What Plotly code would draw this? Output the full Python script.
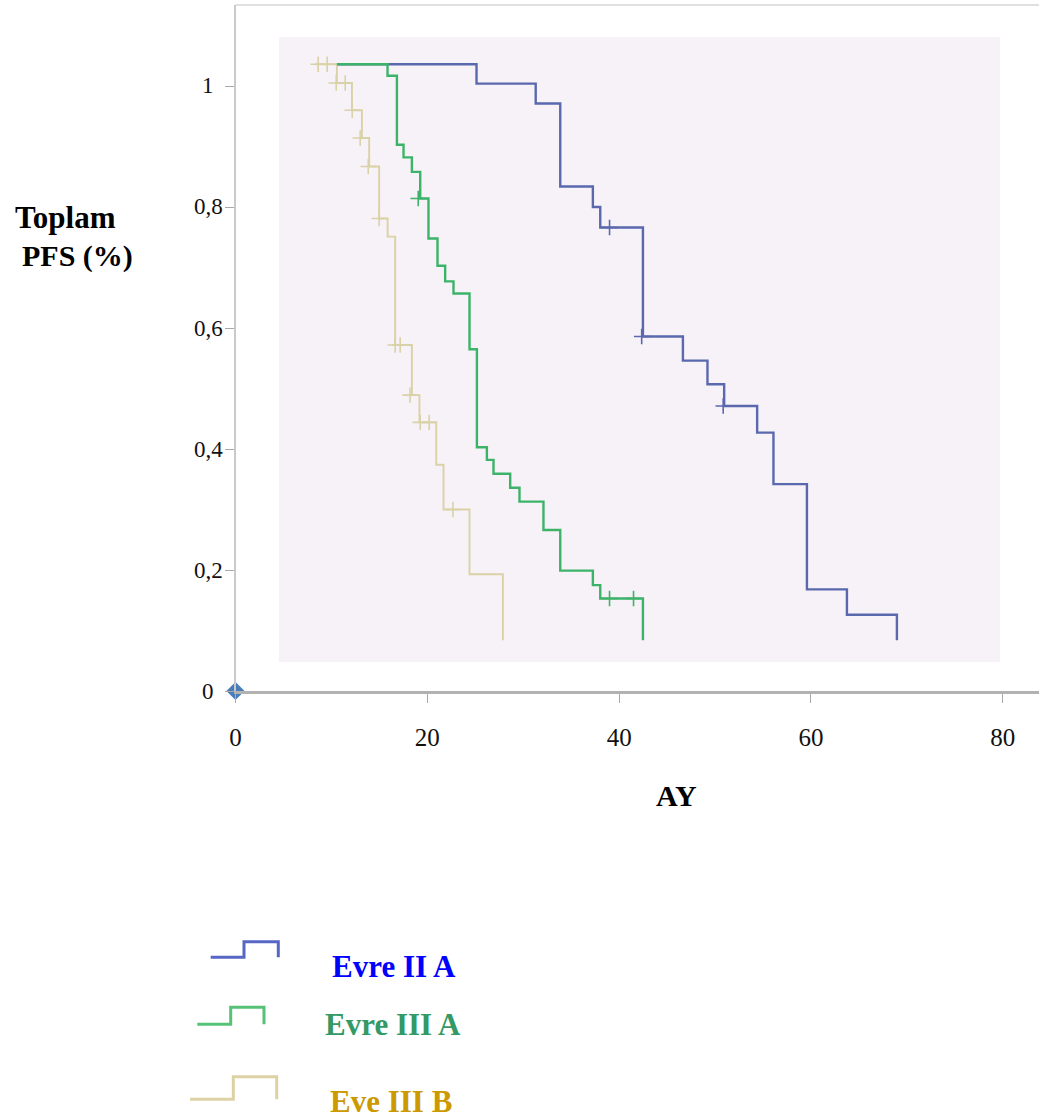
import plotly.graph_objects as go

# ---------------- data ----------------
months_label = "AY"
y_title_lines = ["Toplam", "PFS (%)"]

x_tick_vals = [0, 20, 40, 60, 80]
x_tick_text = ["0", "20", "40", "60", "80"]
y_tick_vals = [0, 0.2, 0.4, 0.6, 0.8, 1.0]
y_tick_text = ["0", "0,2", "0,4", "0,6", "0,8", "1"]

series_names = ["Evre II A", "Evre III A", "Eve III B"]

# Evre II A (blue)
iia_t = [10.57, 25.13, 31.30, 33.86, 37.26, 38.03, 42.48, 46.65, 49.21, 50.95,
         54.39, 56.09, 59.58, 63.75, 68.96]
iia_s = [1.036, 1.004, 0.971, 0.834, 0.800, 0.766, 0.586, 0.546, 0.507, 0.471,
         0.427, 0.342, 0.168, 0.126, 0.084]
iia_cens_t = [39.0, 42.35, 50.85]
iia_cens_s = [0.766, 0.586, 0.471]

# Evre III A (green)
iiia_t = [10.57, 15.85, 16.83, 17.52, 18.39, 19.26, 20.12, 21.06, 21.86, 22.73,
          24.40, 25.17, 26.21, 26.90, 28.64, 29.61, 32.11, 33.86, 37.26, 38.03, 42.48]
iiia_s = [1.036, 1.017, 0.903, 0.882, 0.858, 0.814, 0.748, 0.703, 0.677, 0.657,
          0.565, 0.403, 0.382, 0.359, 0.336, 0.313, 0.266, 0.199, 0.175, 0.153, 0.084]
iiia_cens_t = [19.05, 39.0, 41.5]
iiia_cens_s = [0.814, 0.153, 0.153]

# Eve III B (tan)
iiib_t = [8.31, 10.57, 12.14, 13.18, 13.94, 14.98, 15.86, 16.65, 18.39, 19.18,
          20.93, 21.69, 24.40, 27.88]
iiib_s = [1.036, 1.005, 0.960, 0.914, 0.867, 0.781, 0.751, 0.572, 0.489, 0.444,
          0.374, 0.300, 0.193, 0.084]
iiib_cens_t = [8.62, 9.56, 10.5, 11.44, 12.17, 13.0, 13.84, 14.98, 16.65, 17.17,
               18.2, 19.26, 20.2, 22.67]
iiib_cens_s = [1.036, 1.036, 1.005, 1.005, 0.960, 0.914, 0.867, 0.781, 0.572, 0.572,
               0.489, 0.444, 0.444, 0.300]

origin_x = [0]
origin_y = [0]

# ---------------- styling / layout ----------------
W, H = 1039, 1120
LINE_COLORS = ["#5A68AE", "#3DB36A", "#D9D2A6"]
LINE_WIDTHS = [2.4, 2.4, 1.9]
TEXT_COLORS = ["#0000FF", "#339966", "#CC9900"]
SERIF = "Liberation Serif, Times New Roman, serif"

px = lambda v: v / W           # pixel -> paper x
py = lambda v: 1 - v / H       # pixel -> paper y

plot_left, plot_top, plot_bottom = 235.5, 5, 691
x_max = (W - plot_left) / 9.591
y_max = (plot_bottom - plot_top) / 605.0

fig = go.Figure()

fig.add_trace(go.Scatter(x=origin_x, y=origin_y, mode="markers", cliponaxis=False,
                         marker=dict(symbol="diamond", size=14, color="#4A7EBB"),
                         showlegend=False, hoverinfo="skip"))

curves = {
    0: (iia_t, iia_s, iia_cens_t, iia_cens_s),
    1: (iiia_t, iiia_s, iiia_cens_t, iiia_cens_s),
    2: (iiib_t, iiib_s, iiib_cens_t, iiib_cens_s),
}
for idx in [0, 2, 1]:
    t, s, ct, cs = curves[idx]
    col = LINE_COLORS[idx]
    fig.add_trace(go.Scatter(x=t, y=s, mode="lines", line_shape="hv",
                             line=dict(color=col, width=LINE_WIDTHS[idx]),
                             name=series_names[idx], showlegend=False))
    fig.add_trace(go.Scatter(x=ct, y=cs, mode="markers",
                             marker=dict(symbol="cross-thin-open", size=11, color=col,
                                         line=dict(color=col, width=1.6)),
                             showlegend=False, hoverinfo="skip"))

shapes = []
# inner (embedded image) background
shapes.append(dict(type="rect", xref="paper", yref="paper", layer="below",
                   x0=px(279), x1=px(1000), y0=py(662), y1=py(37),
                   fillcolor="#F7F2F7", line=dict(width=0)))
# top border of plot box
shapes.append(dict(type="line", xref="paper", yref="paper",
                   x0=px(plot_left), x1=1, y0=py(plot_top), y1=py(plot_top),
                   line=dict(color="#D6D6D6", width=1.5)))

# legend icons (step glyphs)
legend_icons = [
    [(210.7, 957.3), (244, 957.3), (244, 941.7), (278.3, 941.7), (278.3, 957.3)],
    [(197.3, 1024.3), (230.7, 1024.3), (230.7, 1007.3), (264, 1007.3), (264, 1024.3)],
    [(190, 1099.3), (233.3, 1099.3), (233.3, 1076.7), (276.7, 1076.7), (276.7, 1099.3)],
]
legend_icon_colors = ["#5566C4", "#55C275", "#DDD2A6"]
for pts, col in zip(legend_icons, legend_icon_colors):
    path = "M " + " L ".join(f"{px(a):.5f},{py(b):.5f}" for a, b in pts)
    shapes.append(dict(type="path", xref="paper", yref="paper", path=path,
                       line=dict(color=col, width=3)))

annotations = []
# y tick labels (centred, like the reference)
for v, txt in zip(y_tick_vals, y_tick_text):
    annotations.append(dict(x=px(208), y=v, xref="paper", yref="y", text=txt,
                            showarrow=False, xanchor="center", yanchor="middle",
                            font=dict(family=SERIF, size=23, color="#111111")))
# axis titles
annotations.append(dict(x=px(13), y=py(218), xref="paper", yref="paper",
                        text="<b>" + y_title_lines[0] + "</b>", showarrow=False,
                        xanchor="left", yanchor="middle",
                        font=dict(family=SERIF, size=31, color="#000000")))
annotations.append(dict(x=px(20), y=py(256), xref="paper", yref="paper",
                        text="<b>" + y_title_lines[1] + "</b>", showarrow=False,
                        xanchor="left", yanchor="middle",
                        font=dict(family=SERIF, size=30, color="#000000")))
annotations.append(dict(x=px(676), y=py(795), xref="paper", yref="paper",
                        text="<b>" + months_label + "</b>", showarrow=False,
                        xanchor="center", yanchor="middle",
                        font=dict(family=SERIF, size=30, color="#000000")))
# legend texts
legend_text_pos = [(394, 966), (393, 1024), (391, 1101)]
for name, (lx, ly), col in zip(series_names, legend_text_pos, TEXT_COLORS):
    annotations.append(dict(x=px(lx), y=py(ly), xref="paper", yref="paper",
                            text="<b>" + name + "</b>", showarrow=False,
                            xanchor="center", yanchor="middle",
                            font=dict(family=SERIF, size=31, color=col)))

fig.update_layout(
    template="none",
    width=W, height=H,
    margin=dict(l=0, r=0, t=0, b=0),
    paper_bgcolor="white", plot_bgcolor="white",
    showlegend=False,
    shapes=shapes, annotations=annotations,
    xaxis=dict(domain=[px(plot_left), 1], range=[0, x_max], automargin=False,
               tickvals=x_tick_vals, ticktext=x_tick_text,
               ticks="outside", ticklen=9, tickcolor="#A8A8A8", tickwidth=1,
               ticklabelstandoff=13,
               showline=True, linecolor="#B2B2B2", linewidth=3,
               showgrid=False, zeroline=False,
               tickfont=dict(family=SERIF, size=25, color="#111111")),
    yaxis=dict(domain=[py(plot_bottom), py(plot_top)], range=[0, y_max], automargin=False,
               tickvals=y_tick_vals, showticklabels=False,
               ticks="outside", ticklen=9, tickcolor="#A8A8A8", tickwidth=1,
               showline=True, linecolor="#CACACA", linewidth=2,
               showgrid=False, zeroline=False),
)

fig.write_html("out.html")
